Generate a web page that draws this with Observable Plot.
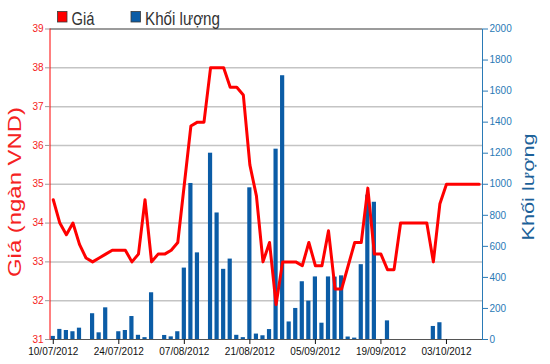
<!DOCTYPE html>
<html><head><meta charset="utf-8">
<script src="https://cdn.jsdelivr.net/npm/d3@7"></script>
<script src="https://cdn.jsdelivr.net/npm/@observablehq/plot@0.6"></script>
<style>body{margin:0;background:#fff}#chart{width:550px;height:364px}</style>
</head><body><div id="chart"></div>
<script>
const dates = ["10/07/2012","11/07/2012","12/07/2012","13/07/2012","16/07/2012","17/07/2012","18/07/2012","19/07/2012","20/07/2012","23/07/2012",
"24/07/2012","25/07/2012","26/07/2012","27/07/2012","30/07/2012","31/07/2012","01/08/2012","02/08/2012","03/08/2012","06/08/2012",
"07/08/2012","08/08/2012","09/08/2012","10/08/2012","13/08/2012","14/08/2012","15/08/2012","16/08/2012","17/08/2012","20/08/2012",
"21/08/2012","22/08/2012","23/08/2012","24/08/2012","27/08/2012","28/08/2012","29/08/2012","30/08/2012","31/08/2012","04/09/2012",
"05/09/2012","06/09/2012","07/09/2012","10/09/2012","11/09/2012","12/09/2012","13/09/2012","14/09/2012","17/09/2012","18/09/2012",
"19/09/2012","20/09/2012","21/09/2012","24/09/2012","25/09/2012","26/09/2012","27/09/2012","28/09/2012","01/10/2012","02/10/2012",
"03/10/2012","04/10/2012","05/10/2012","08/10/2012","09/10/2012","10/10/2012"];
const prices = [34.6,34.0,33.7,34.0,33.45,33.1,33.0,33.1,33.2,33.3,
33.3,33.3,33.0,33.2,34.6,33.0,33.2,33.2,33.3,33.5,
35.0,36.5,36.6,36.6,38.0,38.0,38.0,37.5,37.5,37.3,
35.5,34.7,33.0,33.5,31.9,33.0,33.0,33.0,32.9,33.5,
32.9,32.9,33.8,32.3,32.3,32.9,33.5,33.5,34.9,33.2,
33.2,32.8,32.8,34.0,34.0,34.0,34.0,34.0,33.0,34.5,
35.0,35.0,35.0,35.0,35.0,35.0];
const volumes = [20,65,58,50,73,0,166,43,204,0,
50,58,148,27,12,301,0,26,17,50,
460,1005,558,0,1200,815,452,518,27,12,
977,35,24,64,1226,1699,113,200,372,247,
403,105,403,402,410,16,9,482,930,884,
0,120,0,0,0,0,0,0,84,108,
0,0,0,0,0,0];
const tickLabels = ["10/07/2012","24/07/2012","07/08/2012","21/08/2012","05/09/2012","19/09/2012","03/10/2012"];
const priceTicks = [31,32,33,34,35,36,37,38,39];
const volumeTicks = [0,200,400,600,800,1000,1200,1400,1600,1800,2000];
const priceTitle = "Giá (ngàn VND)";
const volumeTitle = "Khối lượng";
const seriesNames = ["Giá","Khối lượng"];

const PMIN = 31, PMAX = 39, VMAX = 2000;
const volToPrice = v => PMIN + v * (PMAX - PMIN) / VMAX;
const priceToVol = p => Math.round((p - PMIN) * VMAX / (PMAX - PMIN));

const RED = "#ff0000", BAR = "#0b5ca6", AXBLUE = "#2a7ab6", TITLEBLUE = "#1c6199", LABELRED = "#f52222";
const data = dates.map((d, i) => ({date: d, price: prices[i], vol: volumes[i]}));

const chart = Plot.plot({
  width: 550, height: 364,
  marginTop: 28.5, marginBottom: 25, marginLeft: 49.5, marginRight: 68,
  style: {fontFamily: "'Liberation Sans', Arial, sans-serif", fontSize: "10px", background: "#fff", overflow: "visible"},
  x: {type: "band", domain: dates, paddingInner: 0.36, paddingOuter: 0.18, label: null},
  y: {domain: [PMIN, PMAX], label: null},
  marks: [
    Plot.gridY(priceTicks.slice(1, -1), {stroke: "#c4c4c4", strokeOpacity: 1, strokeWidth: 1.5}),
    Plot.ruleY([PMAX], {stroke: "#7a7a7a", strokeWidth: 1.5}),
    Plot.barY(data, {x: "date", y1: PMIN, y2: d => volToPrice(d.vol), fill: BAR}),
    Plot.lineY(data, {x: "date", y: "price", stroke: RED, strokeWidth: 3, strokeLinejoin: "round"}),
    Plot.ruleY([PMIN], {stroke: "#555"}),
    Plot.frame({anchor: "left", stroke: RED}),
    Plot.frame({anchor: "right", stroke: AXBLUE}),
    Plot.axisY(priceTicks, {anchor: "left", tickSize: 4.5, tickPadding: 2, stroke: "#999", fill: LABELRED, fontSize: 10, label: null}),
    Plot.axisY(volumeTicks.map(volToPrice), {anchor: "right", tickSize: 5, tickPadding: 2, color: AXBLUE, fontSize: 10, label: null, tickFormat: p => String(priceToVol(p))}),
    Plot.axisX({ticks: tickLabels, tickSize: 5, tickPadding: 3, color: "#111", fontSize: 10, label: null})
  ]
});
document.getElementById("chart").appendChild(chart);

// legend and axis titles
const svg = d3.select(chart);
const font = "'Liberation Sans', Arial, sans-serif";
const legendItems = [
  {name: seriesNames[0], color: RED, x: 57.5, tl: 23},
  {name: seriesNames[1], color: BAR, x: 131, tl: 75}
];
const lg = svg.append("g").attr("text-anchor", "start");
legendItems.forEach(it => {
  lg.append("rect").attr("x", it.x).attr("y", 11.5).attr("width", 9.5).attr("height", 10.5)
    .attr("fill", it.color).attr("stroke", "#3a3a3a").attr("stroke-width", 0.8);
  lg.append("text").attr("x", it.x + 14).attr("y", 25).text(it.name)
    .attr("text-anchor", "start")
    .attr("font-family", font).attr("font-size", 19).attr("fill", "#333")
    .attr("textLength", it.tl).attr("lengthAdjust", "spacingAndGlyphs");
});
svg.append("text").text(priceTitle)
  .attr("transform", "translate(21,192) rotate(-90)")
  .attr("text-anchor", "middle").attr("font-family", font).attr("font-size", 18)
  .attr("fill", LABELRED).attr("textLength", 170).attr("lengthAdjust", "spacingAndGlyphs");
svg.append("text").text(volumeTitle)
  .attr("transform", "translate(534,187) rotate(-90)")
  .attr("text-anchor", "middle").attr("font-family", font).attr("font-size", 17)
  .attr("fill", TITLEBLUE).attr("textLength", 107).attr("lengthAdjust", "spacingAndGlyphs");
</script>
</body></html>
